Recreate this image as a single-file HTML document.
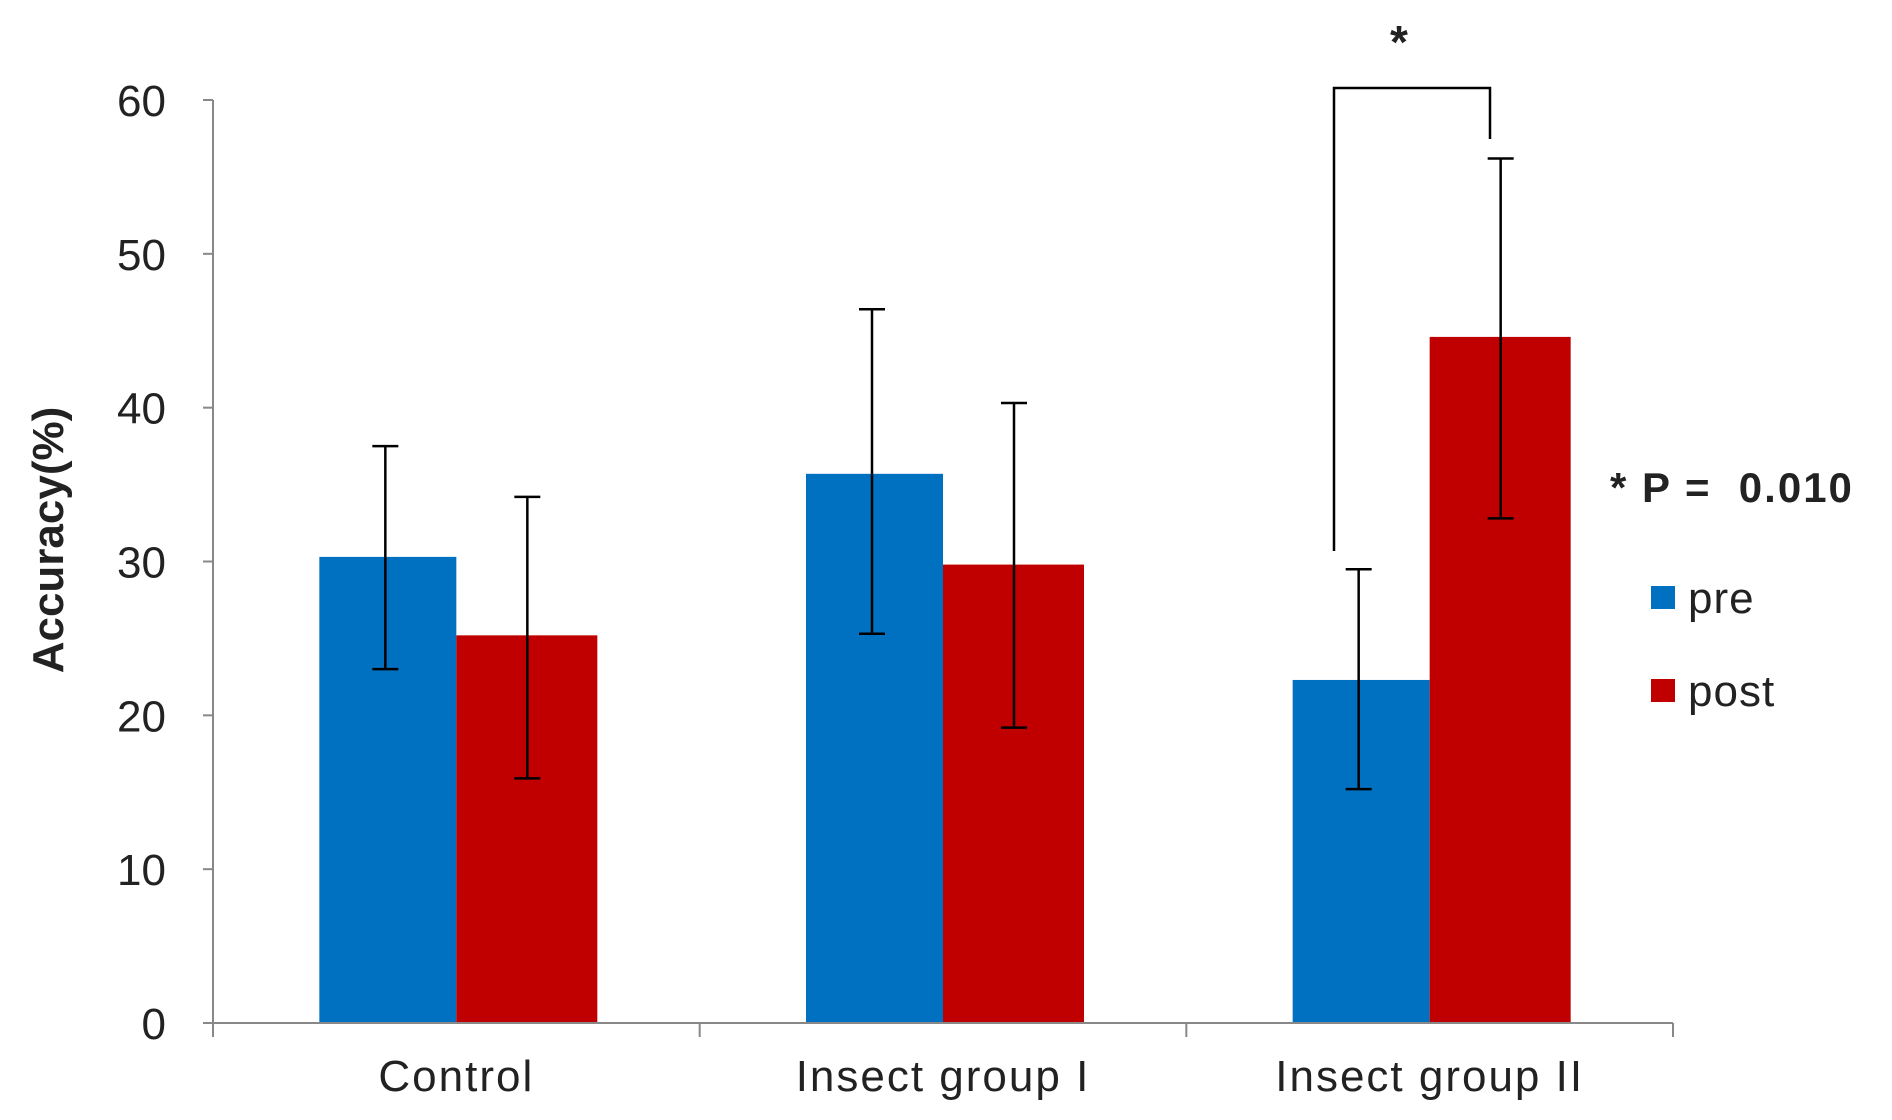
<!DOCTYPE html>
<html><head><meta charset="utf-8"><style>
html,body{margin:0;padding:0;background:#fff;}
svg{display:block;font-family:"Liberation Sans",sans-serif;}
</style></head><body>
<svg id="chart" width="1892" height="1120" viewBox="0 0 1892 1120"></svg>
<script>
const categories = ["Control", "Insect group I", "Insect group II"];
const preValues = [30.3, 35.7, 22.3];
const preErrHigh = [37.5, 46.4, 29.5];
const preErrLow = [23.0, 25.3, 15.2];
const postValues = [25.2, 29.8, 44.6];
const postErrHigh = [34.2, 40.3, 56.2];
const postErrLow = [15.9, 19.2, 32.8];
const yTicks = [0, 10, 20, 30, 40, 50, 60];

const NS = "http://www.w3.org/2000/svg";
const svg = document.getElementById("chart");
const x0 = 213, x1 = 1673, yBase = 1023, yTop = 100;
const groupW = (x1 - x0) / categories.length;
const y = v => yBase - (v / 60) * (yBase - yTop);
const gc = i => x0 + groupW * (i + 0.5);
function mk(tag, attrs, text) {
  const e = document.createElementNS(NS, tag);
  for (const k in attrs) e.setAttribute(k, attrs[k]);
  if (text !== undefined) e.textContent = text;
  svg.appendChild(e);
  return e;
}
categories.forEach((c, i) => {
  const cx = gc(i);
  let b = mk("rect", {x: cx - 137, y: y(preValues[i]), width: 137, height: yBase - y(preValues[i]), fill: "#0070c0"});
  
  
  b = mk("rect", {x: cx, y: y(postValues[i]), width: 141, height: yBase - y(postValues[i]), fill: "#c00000"});
  
  
});
function err(xc, hi, lo, name) {
  const g = document.createElementNS(NS, "g");
  
  
  g.setAttribute("stroke", "#000"); g.setAttribute("stroke-width", "2.5");
  [[xc, y(hi), xc, y(lo)], [xc - 13, y(hi), xc + 13, y(hi)], [xc - 13, y(lo), xc + 13, y(lo)]].forEach(p => {
    const l = document.createElementNS(NS, "line");
    l.setAttribute("x1", p[0]); l.setAttribute("y1", p[1]); l.setAttribute("x2", p[2]); l.setAttribute("y2", p[3]);
    g.appendChild(l);
  });
  svg.appendChild(g);
}
categories.forEach((c, i) => {
  err(gc(i) - 71, preErrHigh[i], preErrLow[i], 'error-bar-pre-' + i);
  err(gc(i) + 71, postErrHigh[i], postErrLow[i], 'error-bar-post-' + i);
});
let a = mk("line", {x1: x0, y1: yTop, x2: x0, y2: yBase + 12, stroke: "#888", "stroke-width": 2});
 
a = mk("line", {x1: x0, y1: yBase, x2: x1, y2: yBase, stroke: "#888", "stroke-width": 2});
 
yTicks.forEach(t => {
  mk("line", {x1: x0 - 10, y1: y(t), x2: x0, y2: y(t), stroke: "#888", "stroke-width": 2});
  const tl = mk("text", {x: 166, y: y(t) + 16, "text-anchor": "end", "font-size": 44, fill: "#222"}, t);
   
});
for (let i = 0; i <= categories.length; i++) {
  mk("line", {x1: x0 + groupW * i, y1: yBase, x2: x0 + groupW * i, y2: yBase + 14, stroke: "#888", "stroke-width": 2});
}
categories.forEach((c, i) => {
  const t = mk("text", {x: gc(i), y: 1091, "text-anchor": "middle", "font-size": 44, "letter-spacing": 2, fill: "#222"}, c);
   
});
</script>
<script>
const s = document.getElementById("chart");
s.insertAdjacentHTML("beforeend", `
<text transform="translate(63,540) rotate(-90)" text-anchor="middle" font-size="44" font-weight="bold" fill="#222">Accuracy(%)</text>
<path d="M1334 551 V88 H1490 V139" fill="none" stroke="#000" stroke-width="2.5"/>
<text x="1399" y="58" text-anchor="middle" font-size="46" font-weight="bold" fill="#222">*</text>
<text x="1610" y="502" font-size="42" font-weight="bold" letter-spacing="2" fill="#222">* P =&#160;&#160;0.010</text>
<g>
<rect x="1651" y="586" width="24" height="23" fill="#0070c0"/>
<text x="1688" y="613" font-size="44" letter-spacing="1" fill="#222">pre</text>
<rect x="1651" y="679" width="24" height="23" fill="#c00000"/>
<text x="1688" y="706" font-size="44" letter-spacing="1" fill="#222">post</text>
</g>`);
</script>
</body></html>
